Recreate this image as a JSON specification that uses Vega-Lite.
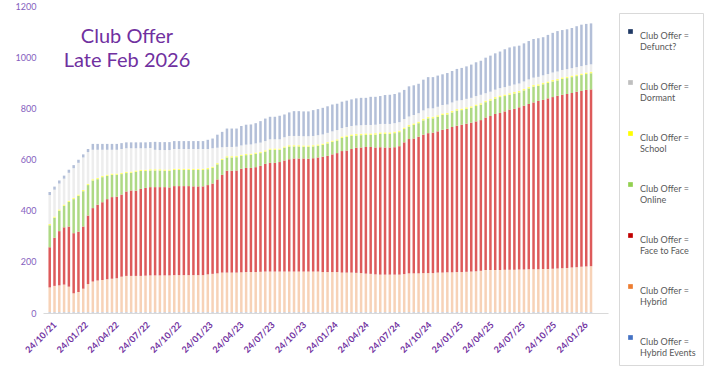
{
  "$schema": "https://vega.github.io/schema/vega-lite/v6.json",
  "width": 565,
  "height": 307,
  "autosize": {"type": "none"},
  "padding": {"left": 43, "top": 6, "right": 96, "bottom": 64},
  "background": "white",
  "title": {
    "text": ["Club Offer", "Late Feb 2026"],
    "orient": "top",
    "frame": "group",
    "anchor": "start",
    "align": "center",
    "baseline": "top",
    "offset": 0,
    "dx": 84,
    "dy": 69,
    "fontSize": 20,
    "fontWeight": "normal",
    "font": "Lato",
    "color": "#7030A0",
    "lineHeight": 24
  },
  "datasets": {
    "cats": [
      {"key": "he", "name": "Club Offer = Hybrid Events", "rank": 1},
      {"key": "hy", "name": "Club Offer = Hybrid", "rank": 2},
      {"key": "f", "name": "Club Offer = Face to Face", "rank": 3},
      {"key": "on", "name": "Club Offer = Online", "rank": 4},
      {"key": "sc", "name": "Club Offer = School", "rank": 5},
      {"key": "dm", "name": "Club Offer = Dormant", "rank": 6},
      {"key": "df", "name": "Club Offer = Defunct?", "rank": 7}
    ],
    "clubs": [
      {"d": "2021-10-24", "he": 3, "hy": 97, "f": 157, "on": 86, "sc": 5, "dm": 113, "df": 12},
      {"d": "2021-11-07", "he": 3, "hy": 103, "f": 188, "on": 78, "sc": 5, "dm": 105, "df": 12},
      {"d": "2021-11-21", "he": 3, "hy": 105, "f": 212, "on": 80, "sc": 5, "dm": 101, "df": 12},
      {"d": "2021-12-05", "he": 3, "hy": 108, "f": 224, "on": 84, "sc": 5, "dm": 101, "df": 12},
      {"d": "2021-12-19", "he": 3, "hy": 100, "f": 235, "on": 96, "sc": 5, "dm": 109, "df": 12},
      {"d": "2022-01-02", "he": 3, "hy": 74, "f": 235, "on": 133, "sc": 5, "dm": 116, "df": 12},
      {"d": "2022-01-16", "he": 3, "hy": 79, "f": 236, "on": 140, "sc": 5, "dm": 124, "df": 12},
      {"d": "2022-01-30", "he": 3, "hy": 92, "f": 243, "on": 138, "sc": 5, "dm": 127, "df": 12},
      {"d": "2022-02-13", "he": 3, "hy": 110, "f": 268, "on": 119, "sc": 5, "dm": 124, "df": 12},
      {"d": "2022-02-27", "he": 3, "hy": 120, "f": 287, "on": 108, "sc": 5, "dm": 115, "df": 23},
      {"d": "2022-03-13", "he": 3, "hy": 124, "f": 296, "on": 100, "sc": 5, "dm": 110, "df": 23},
      {"d": "2022-03-27", "he": 3, "hy": 126, "f": 304, "on": 98, "sc": 5, "dm": 102, "df": 23},
      {"d": "2022-04-10", "he": 3, "hy": 129, "f": 313, "on": 91, "sc": 5, "dm": 97, "df": 23},
      {"d": "2022-04-24", "he": 3, "hy": 131, "f": 319, "on": 87, "sc": 5, "dm": 93, "df": 23},
      {"d": "2022-05-08", "he": 3, "hy": 133, "f": 319, "on": 85, "sc": 5, "dm": 93, "df": 23},
      {"d": "2022-05-22", "he": 3, "hy": 139, "f": 321, "on": 80, "sc": 5, "dm": 93, "df": 23},
      {"d": "2022-06-05", "he": 3, "hy": 142, "f": 330, "on": 72, "sc": 5, "dm": 92, "df": 23},
      {"d": "2022-06-19", "he": 3, "hy": 142, "f": 334, "on": 69, "sc": 5, "dm": 91, "df": 23},
      {"d": "2022-07-03", "he": 3, "hy": 142, "f": 333, "on": 74, "sc": 5, "dm": 87, "df": 23},
      {"d": "2022-07-17", "he": 3, "hy": 142, "f": 340, "on": 70, "sc": 5, "dm": 84, "df": 23},
      {"d": "2022-07-31", "he": 3, "hy": 143, "f": 343, "on": 66, "sc": 5, "dm": 84, "df": 23},
      {"d": "2022-08-14", "he": 3, "hy": 144, "f": 345, "on": 65, "sc": 5, "dm": 83, "df": 23},
      {"d": "2022-08-28", "he": 3, "hy": 144, "f": 345, "on": 65, "sc": 5, "dm": 76, "df": 31},
      {"d": "2022-09-11", "he": 3, "hy": 144, "f": 345, "on": 65, "sc": 5, "dm": 75, "df": 31},
      {"d": "2022-09-25", "he": 3, "hy": 144, "f": 345, "on": 64, "sc": 5, "dm": 76, "df": 31},
      {"d": "2022-10-09", "he": 3, "hy": 144, "f": 344, "on": 65, "sc": 5, "dm": 76, "df": 31},
      {"d": "2022-10-23", "he": 3, "hy": 145, "f": 348, "on": 63, "sc": 5, "dm": 77, "df": 31},
      {"d": "2022-11-06", "he": 3, "hy": 145, "f": 348, "on": 63, "sc": 5, "dm": 77, "df": 31},
      {"d": "2022-11-20", "he": 3, "hy": 145, "f": 348, "on": 63, "sc": 5, "dm": 77, "df": 31},
      {"d": "2022-12-04", "he": 3, "hy": 145, "f": 348, "on": 63, "sc": 5, "dm": 77, "df": 31},
      {"d": "2022-12-18", "he": 3, "hy": 145, "f": 347, "on": 64, "sc": 5, "dm": 77, "df": 31},
      {"d": "2023-01-01", "he": 3, "hy": 145, "f": 347, "on": 64, "sc": 5, "dm": 77, "df": 31},
      {"d": "2023-01-15", "he": 3, "hy": 145, "f": 347, "on": 64, "sc": 5, "dm": 77, "df": 31},
      {"d": "2023-01-29", "he": 3, "hy": 148, "f": 349, "on": 62, "sc": 5, "dm": 74, "df": 36},
      {"d": "2023-02-12", "he": 3, "hy": 150, "f": 353, "on": 61, "sc": 5, "dm": 72, "df": 38},
      {"d": "2023-02-26", "he": 3, "hy": 152, "f": 367, "on": 59, "sc": 5, "dm": 60, "df": 51},
      {"d": "2023-03-12", "he": 3, "hy": 155, "f": 382, "on": 58, "sc": 5, "dm": 45, "df": 60},
      {"d": "2023-03-26", "he": 3, "hy": 155, "f": 398, "on": 52, "sc": 5, "dm": 36, "df": 72},
      {"d": "2023-04-09", "he": 3, "hy": 155, "f": 398, "on": 52, "sc": 5, "dm": 36, "df": 72},
      {"d": "2023-04-23", "he": 3, "hy": 155, "f": 399, "on": 52, "sc": 5, "dm": 36, "df": 71},
      {"d": "2023-05-07", "he": 3, "hy": 156, "f": 405, "on": 50, "sc": 5, "dm": 36, "df": 76},
      {"d": "2023-05-21", "he": 3, "hy": 157, "f": 407, "on": 50, "sc": 5, "dm": 36, "df": 78},
      {"d": "2023-06-04", "he": 3, "hy": 157, "f": 407, "on": 51, "sc": 5, "dm": 36, "df": 78},
      {"d": "2023-06-18", "he": 3, "hy": 157, "f": 410, "on": 52, "sc": 5, "dm": 36, "df": 79},
      {"d": "2023-07-02", "he": 3, "hy": 158, "f": 414, "on": 50, "sc": 5, "dm": 36, "df": 84},
      {"d": "2023-07-16", "he": 3, "hy": 159, "f": 421, "on": 48, "sc": 5, "dm": 36, "df": 88},
      {"d": "2023-07-30", "he": 3, "hy": 159, "f": 425, "on": 51, "sc": 5, "dm": 36, "df": 88},
      {"d": "2023-08-13", "he": 3, "hy": 159, "f": 425, "on": 51, "sc": 5, "dm": 36, "df": 88},
      {"d": "2023-08-27", "he": 3, "hy": 159, "f": 428, "on": 48, "sc": 5, "dm": 36, "df": 92},
      {"d": "2023-09-10", "he": 3, "hy": 159, "f": 434, "on": 50, "sc": 5, "dm": 36, "df": 89},
      {"d": "2023-09-24", "he": 3, "hy": 159, "f": 439, "on": 50, "sc": 5, "dm": 36, "df": 92},
      {"d": "2023-10-08", "he": 3, "hy": 159, "f": 442, "on": 47, "sc": 5, "dm": 36, "df": 97},
      {"d": "2023-10-22", "he": 3, "hy": 159, "f": 442, "on": 47, "sc": 5, "dm": 36, "df": 97},
      {"d": "2023-11-05", "he": 3, "hy": 159, "f": 442, "on": 46, "sc": 5, "dm": 36, "df": 97},
      {"d": "2023-11-19", "he": 3, "hy": 159, "f": 441, "on": 47, "sc": 5, "dm": 36, "df": 97},
      {"d": "2023-12-03", "he": 3, "hy": 159, "f": 443, "on": 46, "sc": 5, "dm": 36, "df": 101},
      {"d": "2023-12-17", "he": 3, "hy": 159, "f": 446, "on": 46, "sc": 5, "dm": 36, "df": 102},
      {"d": "2023-12-31", "he": 3, "hy": 157, "f": 451, "on": 46, "sc": 5, "dm": 36, "df": 104},
      {"d": "2024-01-14", "he": 3, "hy": 157, "f": 454, "on": 49, "sc": 5, "dm": 36, "df": 104},
      {"d": "2024-01-28", "he": 3, "hy": 157, "f": 460, "on": 49, "sc": 5, "dm": 36, "df": 105},
      {"d": "2024-02-11", "he": 3, "hy": 157, "f": 465, "on": 49, "sc": 5, "dm": 36, "df": 103},
      {"d": "2024-02-25", "he": 3, "hy": 155, "f": 475, "on": 51, "sc": 6, "dm": 33, "df": 103},
      {"d": "2024-03-10", "he": 3, "hy": 155, "f": 477, "on": 53, "sc": 6, "dm": 33, "df": 103},
      {"d": "2024-03-24", "he": 3, "hy": 155, "f": 483, "on": 51, "sc": 6, "dm": 33, "df": 104},
      {"d": "2024-04-07", "he": 3, "hy": 154, "f": 489, "on": 48, "sc": 6, "dm": 33, "df": 106},
      {"d": "2024-04-21", "he": 3, "hy": 153, "f": 491, "on": 48, "sc": 6, "dm": 33, "df": 107},
      {"d": "2024-05-05", "he": 3, "hy": 151, "f": 495, "on": 47, "sc": 6, "dm": 33, "df": 106},
      {"d": "2024-05-19", "he": 3, "hy": 150, "f": 496, "on": 47, "sc": 6, "dm": 33, "df": 110},
      {"d": "2024-06-02", "he": 3, "hy": 148, "f": 496, "on": 50, "sc": 6, "dm": 33, "df": 109},
      {"d": "2024-06-16", "he": 3, "hy": 147, "f": 498, "on": 52, "sc": 6, "dm": 33, "df": 109},
      {"d": "2024-06-30", "he": 3, "hy": 147, "f": 497, "on": 53, "sc": 6, "dm": 33, "df": 113},
      {"d": "2024-07-14", "he": 3, "hy": 147, "f": 497, "on": 53, "sc": 6, "dm": 33, "df": 114},
      {"d": "2024-07-28", "he": 3, "hy": 147, "f": 498, "on": 55, "sc": 6, "dm": 33, "df": 114},
      {"d": "2024-08-11", "he": 3, "hy": 147, "f": 502, "on": 55, "sc": 6, "dm": 33, "df": 116},
      {"d": "2024-08-25", "he": 3, "hy": 149, "f": 515, "on": 52, "sc": 6, "dm": 33, "df": 114},
      {"d": "2024-09-08", "he": 3, "hy": 152, "f": 525, "on": 49, "sc": 6, "dm": 33, "df": 118},
      {"d": "2024-09-22", "he": 3, "hy": 152, "f": 527, "on": 53, "sc": 6, "dm": 33, "df": 116},
      {"d": "2024-10-06", "he": 3, "hy": 152, "f": 534, "on": 53, "sc": 6, "dm": 33, "df": 115},
      {"d": "2024-10-20", "he": 3, "hy": 153, "f": 541, "on": 56, "sc": 6, "dm": 33, "df": 120},
      {"d": "2024-11-03", "he": 3, "hy": 153, "f": 547, "on": 58, "sc": 6, "dm": 33, "df": 122},
      {"d": "2024-11-17", "he": 3, "hy": 153, "f": 549, "on": 56, "sc": 6, "dm": 33, "df": 122},
      {"d": "2024-12-01", "he": 3, "hy": 155, "f": 552, "on": 57, "sc": 6, "dm": 33, "df": 122},
      {"d": "2024-12-15", "he": 3, "hy": 155, "f": 558, "on": 58, "sc": 6, "dm": 33, "df": 120},
      {"d": "2024-12-29", "he": 3, "hy": 156, "f": 561, "on": 56, "sc": 6, "dm": 33, "df": 123},
      {"d": "2025-01-12", "he": 3, "hy": 156, "f": 568, "on": 57, "sc": 6, "dm": 33, "df": 123},
      {"d": "2025-01-26", "he": 3, "hy": 157, "f": 572, "on": 59, "sc": 6, "dm": 33, "df": 124},
      {"d": "2025-02-09", "he": 3, "hy": 157, "f": 576, "on": 57, "sc": 6, "dm": 33, "df": 126},
      {"d": "2025-02-23", "he": 3, "hy": 158, "f": 579, "on": 58, "sc": 6, "dm": 33, "df": 127},
      {"d": "2025-03-09", "he": 3, "hy": 159, "f": 582, "on": 58, "sc": 6, "dm": 33, "df": 130},
      {"d": "2025-03-23", "he": 3, "hy": 160, "f": 586, "on": 60, "sc": 6, "dm": 33, "df": 132},
      {"d": "2025-04-06", "he": 3, "hy": 162, "f": 589, "on": 60, "sc": 6, "dm": 33, "df": 133},
      {"d": "2025-04-20", "he": 3, "hy": 165, "f": 596, "on": 60, "sc": 6, "dm": 29, "df": 139},
      {"d": "2025-05-04", "he": 3, "hy": 165, "f": 602, "on": 60, "sc": 6, "dm": 29, "df": 141},
      {"d": "2025-05-18", "he": 3, "hy": 165, "f": 610, "on": 60, "sc": 6, "dm": 29, "df": 142},
      {"d": "2025-06-01", "he": 3, "hy": 165, "f": 614, "on": 62, "sc": 6, "dm": 29, "df": 143},
      {"d": "2025-06-15", "he": 3, "hy": 166, "f": 619, "on": 60, "sc": 6, "dm": 29, "df": 148},
      {"d": "2025-06-29", "he": 3, "hy": 166, "f": 626, "on": 58, "sc": 6, "dm": 29, "df": 150},
      {"d": "2025-07-13", "he": 3, "hy": 166, "f": 629, "on": 60, "sc": 6, "dm": 29, "df": 149},
      {"d": "2025-07-27", "he": 3, "hy": 167, "f": 634, "on": 58, "sc": 6, "dm": 29, "df": 148},
      {"d": "2025-08-10", "he": 3, "hy": 167, "f": 640, "on": 60, "sc": 6, "dm": 29, "df": 149},
      {"d": "2025-08-24", "he": 3, "hy": 168, "f": 646, "on": 61, "sc": 6, "dm": 29, "df": 150},
      {"d": "2025-09-07", "he": 3, "hy": 168, "f": 652, "on": 62, "sc": 6, "dm": 29, "df": 151},
      {"d": "2025-09-21", "he": 3, "hy": 168, "f": 658, "on": 59, "sc": 6, "dm": 29, "df": 151},
      {"d": "2025-10-05", "he": 3, "hy": 169, "f": 661, "on": 61, "sc": 6, "dm": 29, "df": 149},
      {"d": "2025-10-19", "he": 3, "hy": 169, "f": 667, "on": 60, "sc": 6, "dm": 29, "df": 153},
      {"d": "2025-11-02", "he": 3, "hy": 170, "f": 671, "on": 61, "sc": 6, "dm": 29, "df": 155},
      {"d": "2025-11-16", "he": 3, "hy": 171, "f": 675, "on": 60, "sc": 6, "dm": 29, "df": 158},
      {"d": "2025-11-30", "he": 3, "hy": 172, "f": 678, "on": 62, "sc": 6, "dm": 29, "df": 156},
      {"d": "2025-12-14", "he": 3, "hy": 173, "f": 680, "on": 62, "sc": 6, "dm": 29, "df": 156},
      {"d": "2025-12-28", "he": 3, "hy": 175, "f": 682, "on": 62, "sc": 6, "dm": 29, "df": 157},
      {"d": "2026-01-11", "he": 3, "hy": 176, "f": 686, "on": 61, "sc": 6, "dm": 29, "df": 160},
      {"d": "2026-01-25", "he": 3, "hy": 178, "f": 687, "on": 62, "sc": 6, "dm": 29, "df": 162},
      {"d": "2026-02-08", "he": 3, "hy": 179, "f": 690, "on": 62, "sc": 6, "dm": 29, "df": 161},
      {"d": "2026-02-22", "he": 3, "hy": 180, "f": 691, "on": 63, "sc": 6, "dm": 29, "df": 160}
    ]
  },
  "layer": [
    {
      "data": {"name": "clubs"},
      "transform": [
        {"fold": ["he", "hy", "f", "on", "sc", "dm", "df"], "as": ["key", "value"]},
        {"lookup": "key", "from": {"data": {"name": "cats"}, "key": "key", "fields": ["name", "rank"]}}
      ],
      "mark": {"type": "bar", "size": 2.5},
      "encoding": {
        "x": {
          "field": "d",
          "type": "temporal",
          "scale": {
            "type": "utc",
            "domain": [
              {"year": 2021, "month": 10, "date": 19, "utc": true},
              {"year": 2026, "month": 3, "date": 29, "utc": true}
            ]
          },
          "axis": {
            "title": null,
            "values": [
              {"year": 2021, "month": 10, "date": 24, "utc": true},
              {"year": 2022, "month": 1, "date": 24, "utc": true},
              {"year": 2022, "month": 4, "date": 24, "utc": true},
              {"year": 2022, "month": 7, "date": 24, "utc": true},
              {"year": 2022, "month": 10, "date": 24, "utc": true},
              {"year": 2023, "month": 1, "date": 24, "utc": true},
              {"year": 2023, "month": 4, "date": 24, "utc": true},
              {"year": 2023, "month": 7, "date": 24, "utc": true},
              {"year": 2023, "month": 10, "date": 24, "utc": true},
              {"year": 2024, "month": 1, "date": 24, "utc": true},
              {"year": 2024, "month": 4, "date": 24, "utc": true},
              {"year": 2024, "month": 7, "date": 24, "utc": true},
              {"year": 2024, "month": 10, "date": 24, "utc": true},
              {"year": 2025, "month": 1, "date": 24, "utc": true},
              {"year": 2025, "month": 4, "date": 24, "utc": true},
              {"year": 2025, "month": 7, "date": 24, "utc": true},
              {"year": 2025, "month": 10, "date": 24, "utc": true},
              {"year": 2026, "month": 1, "date": 24, "utc": true}
            ],
            "format": "%d/%m/%y",
            "labelAngle": -45,
            "labelFontSize": 9,
            "labelFontWeight": "bold",
            "labelFont": "Lato",
            "labelColor": "#7030A0",
            "labelPadding": 7,
            "labelOffset": 2,
            "labelOverlap": false,
            "labelFlush": false,
            "labelBound": false,
            "ticks": false,
            "grid": false,
            "domainColor": "#D9D9D9",
            "domainWidth": 1
          }
        },
        "y": {
          "field": "value",
          "type": "quantitative",
          "stack": "zero",
          "scale": {"domain": [0, 1200], "nice": false},
          "axis": {
            "title": null,
            "values": [0, 200, 400, 600, 800, 1000, 1200],
            "format": "d",
            "grid": false,
            "domain": false,
            "ticks": false,
            "labelFontSize": 9,
            "labelFont": "Lato",
            "labelColor": "#8560BE",
            "labelPadding": 7
          }
        },
        "color": {
          "field": "name",
          "type": "nominal",
          "scale": {
            "domain": [
              "Club Offer = Hybrid Events",
              "Club Offer = Hybrid",
              "Club Offer = Face to Face",
              "Club Offer = Online",
              "Club Offer = School",
              "Club Offer = Dormant",
              "Club Offer = Defunct?"
            ],
            "range": ["#B4C7E7", "#F7D2B7", "#DD5A5A", "#AED985", "#FFFF6E", "#EDEDED", "#B3BFD8"]
          },
          "legend": null
        },
        "order": {"field": "rank", "type": "quantitative", "sort": "ascending"}
      }
    },
    {
      "data": {"name": "cats"},
      "mark": {"type": "square", "opacity": 0},
      "encoding": {
        "fill": {
          "field": "name",
          "type": "nominal",
          "scale": {
            "domain": [
              "Club Offer = Defunct?",
              "Club Offer = Dormant",
              "Club Offer = School",
              "Club Offer = Online",
              "Club Offer = Face to Face",
              "Club Offer = Hybrid",
              "Club Offer = Hybrid Events"
            ],
            "range": ["#1F3864", "#BFBFBF", "#FFFF00", "#92D050", "#C00000", "#ED7D31", "#4472C4"]
          },
          "legend": {
            "orient": "none",
            "legendX": 576,
            "legendY": 7,
            "title": " ",
            "titleFontSize": 1,
            "titlePadding": 6,
            "symbolType": "square",
            "symbolSize": 22,
            "symbolStrokeWidth": 0,
            "symbolOpacity": 1,
            "labelFontSize": 9,
            "labelFont": "Lato",
            "labelColor": "#595959",
            "labelBaseline": "top",
            "labelOffset": 5,
            "labelLimit": 200,
            "labelExpr": "['Club Offer =', replace(datum.label, 'Club Offer = ', '')]",
            "rowPadding": 26,
            "padding": 7,
            "strokeColor": "#D9D9D9",
            "fillColor": "white",
            "encode": {
              "labels": {
                "dy": {"value": -5},
                "lineHeight": {"value": 12.5}
              }
            }
          }
        }
      }
    }
  ],
  "config": {
    "view": {"stroke": null},
    "font": "Lato"
  }
}
